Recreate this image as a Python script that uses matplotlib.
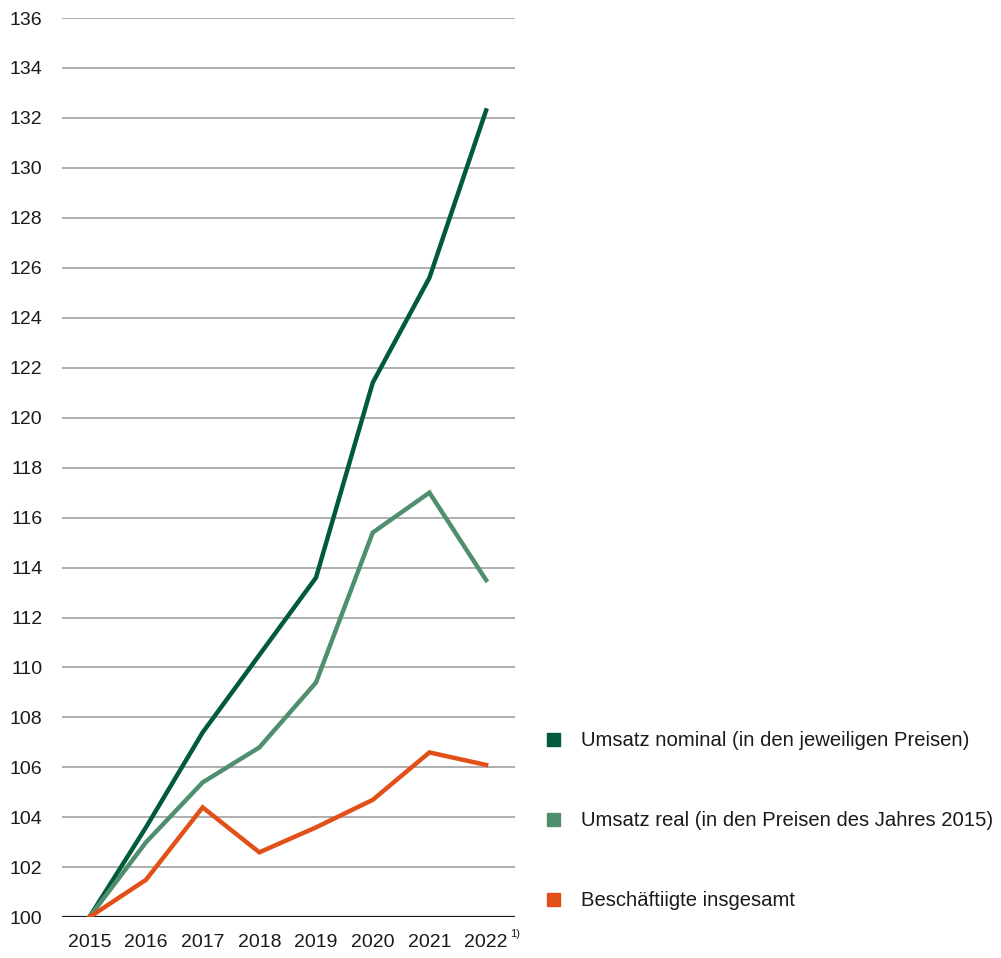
import matplotlib
matplotlib.use("Agg")
import matplotlib.pyplot as plt
from matplotlib.patches import Rectangle

plt.rcParams['font.family'] = ['Liberation Sans', 'DejaVu Sans']

jahre = ['2015', '2016', '2017', '2018', '2019', '2020', '2021', '2022']
umsatz_nominal = [100, 103.6, 107.4, 110.5, 113.6, 121.4, 125.6, 132.3]
umsatz_real = [100, 103.0, 105.4, 106.8, 109.4, 115.4, 117.0, 113.5]
beschaeftigte = [100, 101.5, 104.4, 102.6, 103.6, 104.7, 106.6, 106.1]

labels = ['Umsatz nominal (in den jeweiligen Preisen)',
          'Umsatz real (in den Preisen des Jahres 2015)',
          'Beschäftiigte insgesamt']
farben = ['#005a3c', '#4f8f6f', '#e2501a']

fig = plt.figure(figsize=(10.01, 9.58), dpi=100)
ax = fig.add_axes([0.062, 0.0425, 0.4525, 0.9387])

x = range(len(jahre))
for werte, farbe in zip([umsatz_nominal, umsatz_real, beschaeftigte], farben):
    ax.plot(x, werte, color=farbe, lw=3.2, solid_joinstyle='miter', zorder=3)

ax.set_ylim(100, 136)
ax.set_xlim(-0.48, 7.51)
ax.set_yticks(range(100, 137, 2))
ax.yaxis.grid(True, color='#999999', lw=1.1)
ax.axhline(100, color='#1a1a1a', lw=1.6, zorder=2)
ax.set_xticks(list(x))
ax.set_xticklabels(jahre)
ax.tick_params(length=0, labelsize=14, colors='#1a1a1a', pad=12)
ax.tick_params(axis='y', pad=14)
for s in ax.spines.values():
    s.set_visible(False)

# Fußnote an 2022
ax.annotate('1)', xy=(7, 100), xycoords='data', xytext=(17, -12),
            textcoords='offset points', fontsize=8, color='#1a1a1a', va='center')

# Legende
for i, (lab, farbe) in enumerate(zip(labels, farben)):
    yy = 1 - (740 + 80 * i) / 958
    fig.patches.append(Rectangle((547 / 1001, yy - 6 / 958), 13 / 1001, 13 / 958,
                                 transform=fig.transFigure, color=farbe))
    fig.text(581 / 1001, yy, lab, fontsize=14.6, va='center', color='#1a1a1a')

fig.savefig('out.png', dpi=100)
